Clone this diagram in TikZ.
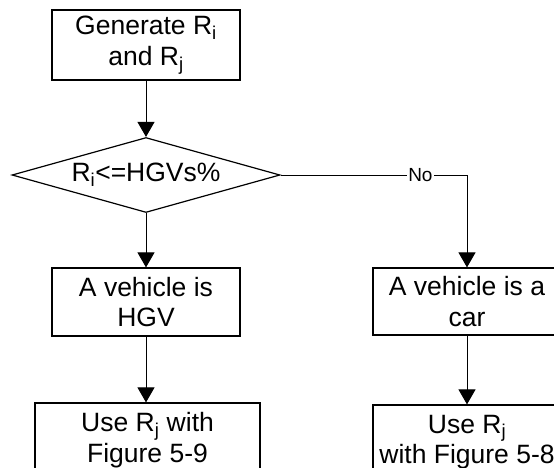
\documentclass[tikz,border=0pt]{standalone}
\usepackage{fontspec}
\setmainfont{Liberation Sans}
\usetikzlibrary{shapes.geometric,arrows.meta}

\begin{document}
\begin{tikzpicture}[x=1pt, y=-1pt, >={Triangle[width=17pt,length=15pt]},
  box/.style={draw, line width=1.2pt, minimum width=188pt, inner sep=0pt,
    align=center, font=\fontsize{26.5}{30.5}\selectfont},
  decision/.style={draw, diamond, line width=1.2pt, shape aspect=3.57,
    minimum width=268pt, minimum height=75pt, inner sep=0pt,
    font=\fontsize{26.5}{30.5}\selectfont},
  flow/.style={->, line width=1pt}]
  % Frame of the page (reference is cut off at right and bottom)
  \useasboundingbox (0,0) rectangle (554,467);
  \clip (0,0) rectangle (554,467);

  % Boxes
  \node[box, minimum height=70pt] (gen) at (146,45) {Generate R\textsubscript{i}\\and R\textsubscript{j}};
  \node[decision] (dec) at (146,175) {R\textsubscript{i}<=HGVs\%};
  \node[box, minimum height=68pt] (hgv) at (146,302) {A vehicle is\\HGV};
  \node[box, minimum height=67pt] (car) at (467,301.5) {A vehicle is a\\car};
  \node[box, minimum width=225pt, minimum height=74pt] (usehgv) at (147.5,440) {Use R\textsubscript{j} with\\Figure 5-9};
  \node[box, minimum height=74pt] (usecar) at (467,442) {Use R\textsubscript{j}\\with Figure 5-8};

  % Connections
  \draw[flow] (gen.south) -- (dec.north);
  \draw[flow] (dec.south) -- (hgv.north);
  \draw[flow] (dec.east) -| node[pos=0.375, fill=white, inner sep=1pt, font=\fontsize{19}{22}\selectfont] {No} (car.north);
  \draw[flow] (hgv.south) -- (hgv.south |- usehgv.north);
  \draw[flow] (car.south) -- (usecar.north);
\end{tikzpicture}
\end{document}
